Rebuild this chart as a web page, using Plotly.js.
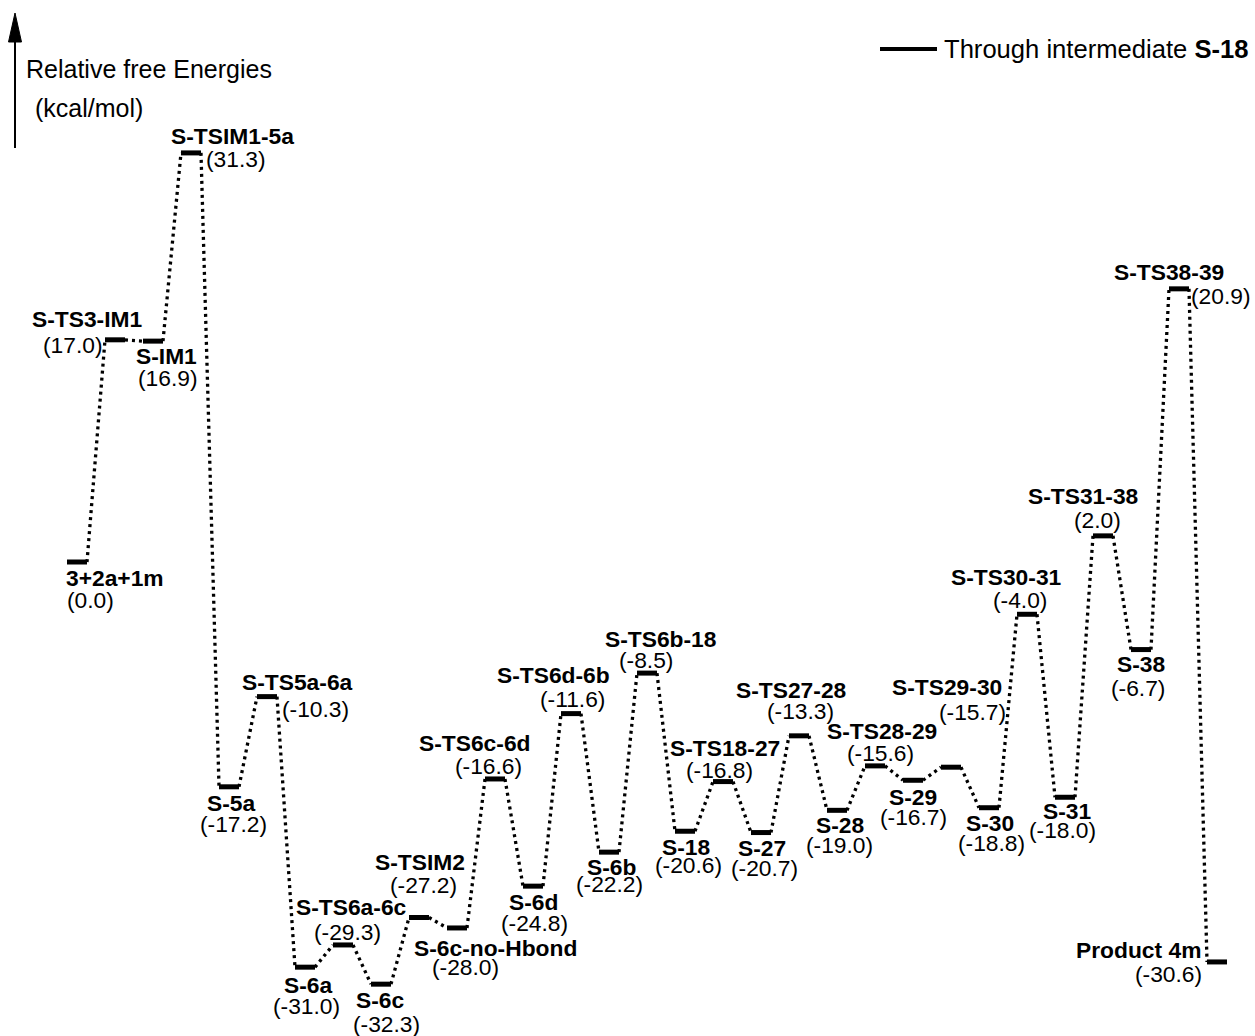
<!DOCTYPE html>
<html>
<head>
<meta charset="utf-8">
<script src="https://cdn.plot.ly/plotly-3.0.1.min.js"></script>
<style>html,body{margin:0;padding:0;background:#fff;}#chart{width:1255px;height:1036px;}</style>
</head>
<body>
<div id="chart"></div>
<script>
// ---- data ----
const labels = ['3+2a+1m','S-TS3-IM1','S-IM1','S-TSIM1-5a','S-5a','S-TS5a-6a','S-6a','S-TS6a-6c','S-6c','S-TSIM2','S-6c-no-Hbond','S-TS6c-6d','S-6d','S-TS6d-6b','S-6b','S-TS6b-18','S-18','S-TS18-27','S-27','S-TS27-28','S-28','S-TS28-29','S-29','S-TS29-30','S-30','S-TS30-31','S-31','S-TS31-38','S-38','S-TS38-39','Product 4m'];
const energies = [0.0,17.0,16.9,31.3,-17.2,-10.3,-31.0,-29.3,-32.3,-27.2,-28.0,-16.6,-24.8,-11.6,-22.2,-8.5,-20.6,-16.8,-20.7,-13.3,-19.0,-15.6,-16.7,-15.7,-18.8,-4.0,-18.0,2.0,-6.7,20.9,-30.6];
const seriesName = 'Through intermediate <b>S-18</b>';
const axisLabel1 = 'Relative free Energies';
const axisLabel2 = '(kcal/mol)';

// ---- label placement (pixel offsets from each level) ----
const nameDx = [38,-28,13,41,2,30,3,8,-1,1,38,-21,0,-18,2,13,1,2,1,-8,3,7,0,-4,1,-21,2,-20,0,-10,-79];
const nameDy = [16,-21,15,-17,16,-15,18,-38,16,-56,20,-36,16,-39,15,-34,16,-34,15,-46,15,-35,17,-80,15,-37,14,-40,14,-17,-12];
const valDx  = [13,-42,15,45,4,48,1,4,5,4,8,-7,1,1,0,-1,3,-4,3,1,2,5,0,21,2,-7,-3,-6,-3,42,-49];
const valDy  = [38,5,37,6,37,12,39,-13,40,-33,39,-13,37,-15,32,-13,34,-12,35,-25,35,-13,37,-55,35,-14,33,-16,38,7,12];

const W = 1255, H = 1036;
const half = 0.263;
const FONT = 'Liberation Sans, Arial, sans-serif';

const bx = [], by = [];
labels.forEach((n, i) => { bx.push(i - half, i + half, null); by.push(energies[i], energies[i], null); });
const cx = [], cy = [];
for (let i = 0; i < labels.length - 1; i++) {
  cx.push(i + half, i + 1 - half, null);
  cy.push(energies[i], energies[i + 1], null);
}

const traces = [
  {x: cx, y: cy, mode: 'lines', line: {color: '#000', width: 3.3, dash: '3px,4px'}, hoverinfo: 'skip', showlegend: false},
  {x: bx, y: by, mode: 'lines', line: {color: '#000', width: 5}, name: seriesName, showlegend: false}
];

const annotations = [];
labels.forEach((n, i) => {
  annotations.push({x: i, y: energies[i], xref: 'x', yref: 'y', text: '<b>' + n + '</b>', showarrow: false,
    xshift: nameDx[i], yshift: -nameDy[i], xanchor: 'center', yanchor: 'middle',
    font: {family: FONT, size: 22.8, color: '#000'}});
  annotations.push({x: i, y: energies[i], xref: 'x', yref: 'y', text: '(' + energies[i].toFixed(1) + ')', showarrow: false,
    xshift: valDx[i], yshift: -valDy[i], xanchor: 'center', yanchor: 'middle',
    font: {family: FONT, size: 22.8, color: '#000'}});
});
annotations.push({x: 24 / W, y: 1 - 69 / H, xref: 'paper', yref: 'paper', text: axisLabel1, showarrow: false,
  xanchor: 'left', yanchor: 'middle', font: {family: FONT, size: 25, color: '#000'}});
annotations.push({x: 33 / W, y: 1 - 108 / H, xref: 'paper', yref: 'paper', text: axisLabel2, showarrow: false,
  xanchor: 'left', yanchor: 'middle', font: {family: FONT, size: 25, color: '#000'}});
annotations.push({x: 942 / W, y: 1 - 49 / H, xref: 'paper', yref: 'paper', text: seriesName, showarrow: false,
  xanchor: 'left', yanchor: 'middle', font: {family: FONT, size: 25.6, color: '#000'}});

const px = v => v / W, py = v => 1 - v / H;
const shapes = [
  {type: 'line', xref: 'paper', yref: 'paper', x0: px(15), x1: px(15), y0: py(148), y1: py(36), line: {color: '#000', width: 2}},
  {type: 'path', xref: 'paper', yref: 'paper', path: `M${px(15)},${py(13)} L${px(8.5)},${py(42)} L${px(21.5)},${py(42)} Z`, fillcolor: '#000', line: {color: '#000', width: 1}},
  {type: 'line', xref: 'paper', yref: 'paper', x0: px(880), x1: px(937), y0: py(49), y1: py(49), line: {color: '#000', width: 4}}
];

const yTop = 562 / 13.07, yBot = -(H - 562) / 13.07;
const layout = {
  width: W, height: H,
  margin: {l: 0, r: 0, t: 0, b: 0},
  paper_bgcolor: '#fff', plot_bgcolor: '#fff',
  xaxis: {range: [-77 / 38, (W - 77) / 38], visible: false, fixedrange: true},
  yaxis: {range: [yBot, yTop], visible: false, fixedrange: true},
  showlegend: false,
  annotations: annotations,
  shapes: shapes,
  font: {family: FONT, color: '#000'}
};
Plotly.newPlot('chart', traces, layout, {displayModeBar: false, staticPlot: true});
</script>
</body>
</html>
